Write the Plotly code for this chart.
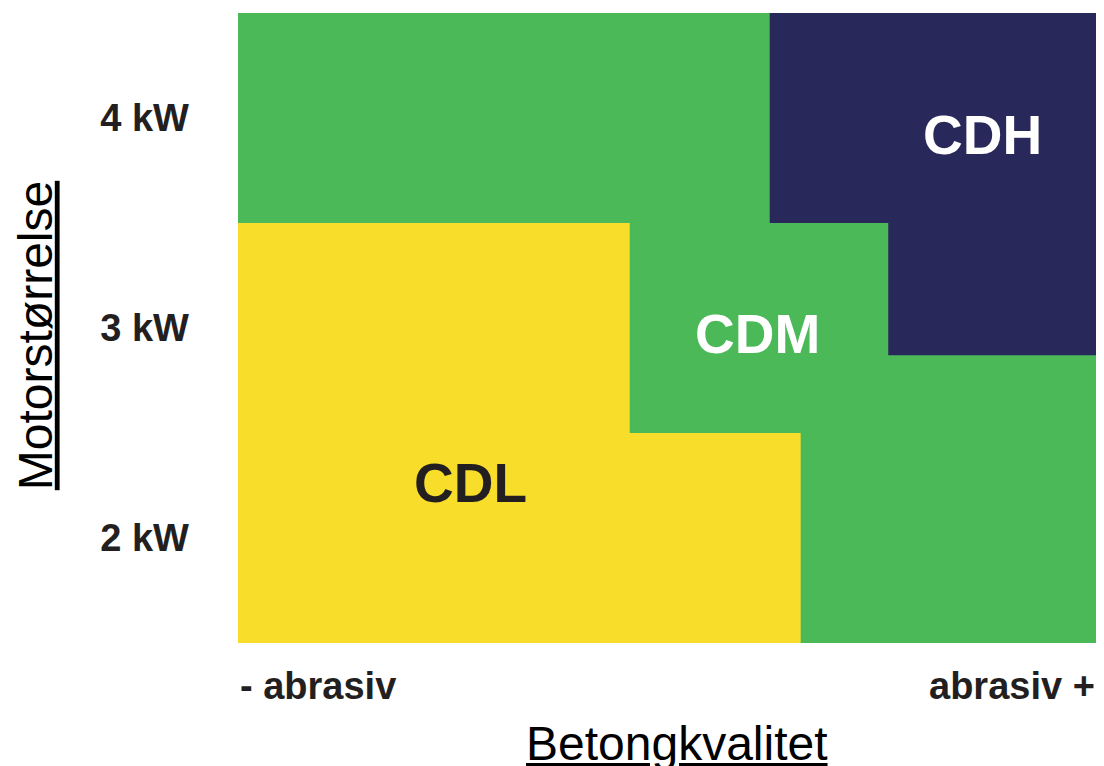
import plotly.graph_objects as go

# Quality scale (x: 0 = least abrasive, 100 = most abrasive), motor size in kW (y)
x_range = [0, 100]
y_range = [1.5, 4.5]

motor_kw = [2, 3, 4]
motor_labels = ["2 kW", "3 kW", "4 kW"]

# Region outlines in data units
cdm_x = [0, 100, 100, 0]
cdm_y = [1.5, 1.5, 4.5, 4.5]

cdl_x = [0, 45.6, 45.6, 65.5, 65.5, 0]
cdl_y = [3.5, 3.5, 2.5, 2.5, 1.5, 1.5]

cdh_x = [61.9, 100, 100, 75.7, 75.7, 61.9]
cdh_y = [4.5, 4.5, 2.87, 2.87, 3.5, 3.5]

region_names = ["CDL", "CDM", "CDH"]
label_x = [27.1, 60.5, 86.7]
label_y = [2.26, 2.97, 3.92]
label_colors = ["#231f20", "#ffffff", "#ffffff"]

GREEN = "#4bb958"
YELLOW = "#f9dd2b"
NAVY = "#28285a"
DARK = "#231f20"
FONT = "Liberation Sans, Arial, Helvetica, sans-serif"

fig = go.Figure()
for xs, ys, col in [(cdm_x, cdm_y, GREEN), (cdl_x, cdl_y, YELLOW), (cdh_x, cdh_y, NAVY)]:
    fig.add_trace(go.Scatter(x=xs, y=ys, fill="toself", fillcolor=col, mode="lines",
                             line=dict(width=0, color=col), hoverinfo="skip", showlegend=False))

for name, lx, ly, lc in zip(region_names, label_x, label_y, label_colors):
    fig.add_annotation(x=lx, y=ly, xref="x", yref="y", text=f"<b>{name}</b>", showarrow=False,
                       font=dict(family=FONT, size=55, color=lc), xanchor="center", yanchor="middle")

# x end labels
fig.add_annotation(x=0, y=0, xref="paper", yref="paper", text="<b>- abrasiv</b>", showarrow=False,
                   xanchor="left", yanchor="middle", yshift=-43,
                   font=dict(family=FONT, size=38, color=DARK))
fig.add_annotation(x=1, y=0, xref="paper", yref="paper", text="<b>abrasiv +</b>", showarrow=False,
                   xanchor="right", yanchor="middle", yshift=-43,
                   font=dict(family=FONT, size=38, color=DARK))

# axis titles
fig.add_annotation(x=0.511, y=0, xref="paper", yref="paper", text="<u>Betongkvalitet</u>", showarrow=False,
                   xanchor="center", yanchor="middle", yshift=-100,
                   font=dict(family=FONT, size=48, color="#000000"))
fig.add_annotation(x=0, y=0.487, xref="paper", yref="paper", text="<u>Motorstørrelse</u>", showarrow=False,
                   xanchor="center", yanchor="middle", xshift=-203, textangle=-90,
                   font=dict(family=FONT, size=48, color="#000000"))

fig.update_xaxes(range=x_range, showgrid=False, zeroline=False, showline=False,
                 showticklabels=False, ticks="", fixedrange=True)
fig.update_yaxes(range=y_range, showgrid=False, zeroline=False, showline=False,
                 tickvals=motor_kw, ticktext=[f"<b>{t}</b>" for t in motor_labels],
                 tickfont=dict(family=FONT, size=38, color=DARK), ticks="",
                 ticklabelstandoff=48, fixedrange=True)

# page body has an 8px default margin, so the figure is 8px smaller than the window
fig.update_layout(width=1096, height=758,
                  margin=dict(l=230, r=7, t=5, b=123),
                  paper_bgcolor="#ffffff", plot_bgcolor="#ffffff")

fig.write_html("out.html")
